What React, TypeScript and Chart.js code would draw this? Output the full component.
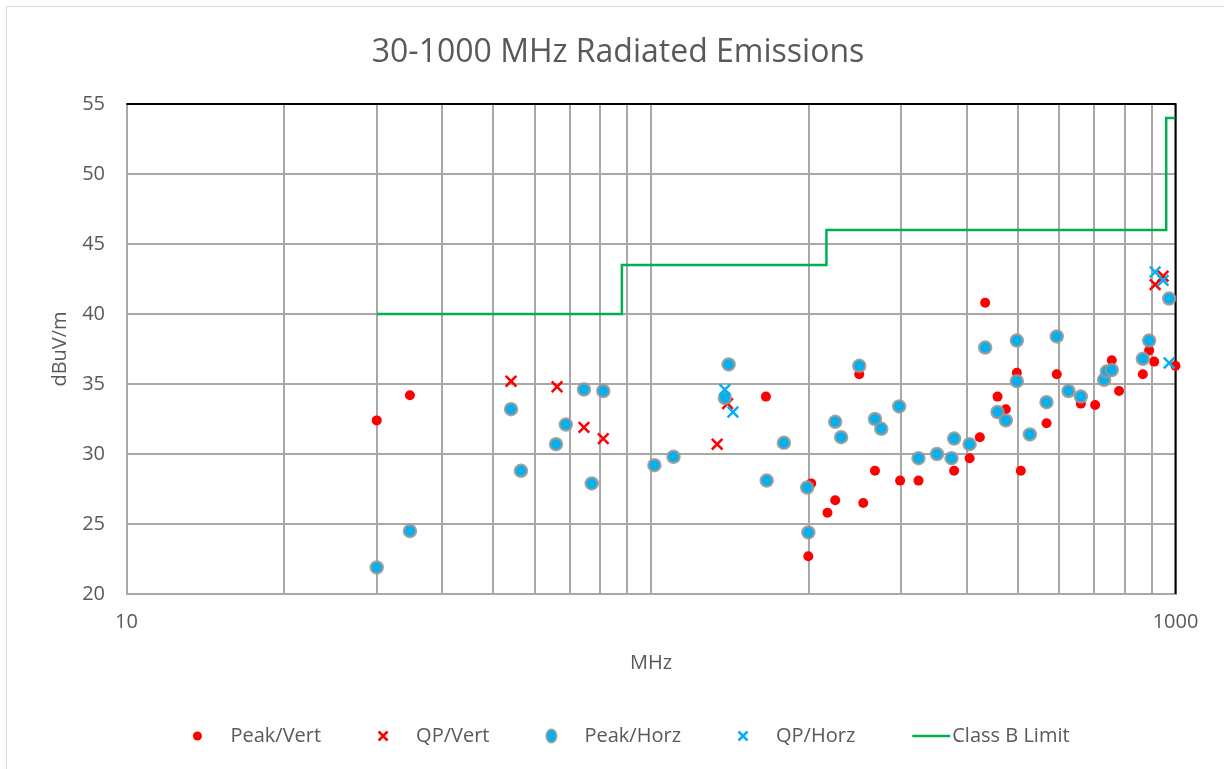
import React, { useEffect, useRef } from 'react';
import { Chart, registerables } from 'chart.js';

Chart.register(...registerables);

// ---------- data ----------
const peakVertFreq = [30, 34.7, 165.6, 199.5, 202, 217, 224.5, 249.5, 253.9, 267.3, 298.5, 323.6, 378.4, 405, 423.6, 433.6, 457.8, 474.8, 498.3, 507.1, 567.7, 593.8, 660, 702.7, 755.9, 780.5, 866.4, 890.7, 910.6, 1000];
const peakVertLevel = [32.4, 34.2, 34.1, 22.7, 27.9, 25.8, 26.7, 35.7, 26.5, 28.8, 28.1, 28.1, 28.8, 29.7, 31.2, 40.8, 34.1, 33.2, 35.8, 28.8, 32.2, 35.7, 33.6, 33.5, 36.7, 34.5, 35.7, 37.4, 36.6, 36.3];

const qpVertFreq = [54.1, 66.2, 74.5, 81.1, 133.7, 140, 914.6, 947];
const qpVertLevel = [35.2, 34.8, 31.9, 31.1, 30.7, 33.6, 42.1, 42.7];

const peakHorzFreq = [30, 34.7, 54.1, 56.5, 65.9, 68.8, 74.5, 77.1, 81.1, 101.5, 110.4, 138.3, 140.6, 166.2, 179.2, 198.5, 199.5, 224.5, 230.4, 249.5, 267.3, 274.8, 297.3, 323.6, 351, 374.1, 378.4, 405, 433.6, 457.8, 474.8, 498.3, 498.3, 527.6, 567.7, 593.8, 625.2, 660, 730.9, 740, 755.9, 866.4, 890.7, 972.5];
const peakHorzLevel = [21.9, 24.5, 33.2, 28.8, 30.7, 32.1, 34.6, 27.9, 34.5, 29.2, 29.8, 34.0, 36.4, 28.1, 30.8, 27.6, 24.4, 32.3, 31.2, 36.3, 32.5, 31.8, 33.4, 29.7, 30.0, 29.7, 31.1, 30.7, 37.6, 33.0, 32.4, 38.1, 35.2, 31.4, 33.7, 38.4, 34.5, 34.1, 35.3, 35.9, 36.0, 36.8, 38.1, 41.1];

const qpHorzFreq = [138.3, 143.3, 914.6, 947, 972.5];
const qpHorzLevel = [34.6, 33.0, 43.0, 42.4, 36.5];

const limitFreq = [30, 88, 88, 216, 216, 960, 960, 1000];
const limitLevel = [40, 40, 43.5, 43.5, 46, 46, 54, 54];

const xGridValues = [10, 20, 30, 40, 50, 60, 70, 80, 90, 100, 200, 300, 400, 500, 600, 700, 800, 900, 1000];
const xLabelValues = [10, 1000];
const yTickValues = [20, 25, 30, 35, 40, 45, 50, 55];

const TITLE = '30-1000 MHz Radiated Emissions';
const X_TITLE = 'MHz';
const Y_TITLE = 'dBuV/m';

// ---------- styles ----------
const FONT = '"Open Sans", sans-serif';
const TEXT = '#595959';
const GRID = '#a8a8a8';
const RED = '#ff0000';
const BLUE = '#00b0f0';
const GREEN = '#00b050';

const pts = (f: number[], v: number[]) => f.map((x, i) => ({ x, y: v[i] }));

const framePlugin = {
  id: 'frameLines',
  beforeDatasetsDraw(chart: any) {
    const { ctx, chartArea: a } = chart;
    ctx.save();
    ctx.strokeStyle = '#000000';
    ctx.lineWidth = 2;
    ctx.beginPath();
    ctx.moveTo(a.left, a.top);
    ctx.lineTo(a.right, a.top);
    ctx.lineTo(a.right, a.bottom);
    ctx.stroke();
    ctx.restore();
  },
};

const legendPlugin = {
  id: 'customLegend',
  afterDraw(chart: any) {
    const ctx = chart.ctx;
    ctx.save();
    ctx.font = `20px ${FONT}`;
    ctx.textBaseline = 'middle';
    const y = 736;
    const items = chart.data.datasets.map((ds: any) => {
      const isLine = ds.showLine;
      const markW = isLine ? 38 : 10;
      const toText = isLine ? 40 : 38;
      const tw = ctx.measureText(ds.label).width;
      return { ds, isLine, markW, toText, tw };
    });
    const gap = 57;
    let total = 0;
    items.forEach((it: any, i: number) => {
      total += it.toText + it.tw + (i < items.length - 1 ? gap : 0);
    });
    let x = 625 - total / 2;
    items.forEach((it: any) => {
      const ds = it.ds;
      if (it.isLine) {
        ctx.strokeStyle = ds.borderColor;
        ctx.lineWidth = 2.5;
        ctx.beginPath();
        ctx.moveTo(x, y);
        ctx.lineTo(x + it.markW, y);
        ctx.stroke();
      } else {
        const cx = x + 5;
        if (ds.pointStyle === 'crossRot') {
          ctx.strokeStyle = ds.borderColor;
          ctx.lineWidth = 2.5;
          const d = 4.5;
          ctx.beginPath();
          ctx.moveTo(cx - d, y - d);
          ctx.lineTo(cx + d, y + d);
          ctx.moveTo(cx + d, y - d);
          ctx.lineTo(cx - d, y + d);
          ctx.stroke();
        } else {
          ctx.beginPath();
          ctx.ellipse(cx, y, ds.pointBorderWidth > 0 ? 5 : 4.5, ds.pointBorderWidth > 0 ? 6.5 : 4.5, 0, 0, Math.PI * 2);
          ctx.fillStyle = ds.backgroundColor;
          ctx.fill();
          if (ds.pointBorderWidth > 0) {
            ctx.strokeStyle = ds.pointBorderColor;
            ctx.lineWidth = 2;
            ctx.stroke();
          }
        }
      }
      ctx.fillStyle = TEXT;
      ctx.textAlign = 'left';
      ctx.fillText(ds.label, x + it.toText, y);
      x += it.toText + it.tw + gap;
    });
    ctx.restore();
  },
};

export default function App() {
  const ref = useRef<HTMLCanvasElement | null>(null);

  useEffect(() => {
    if (!ref.current) return;
    const font = { family: FONT, size: 20 };
    const chart = new Chart(ref.current, {
      type: 'scatter',
      data: {
        datasets: [
          {
            label: 'Peak/Vert',
            data: pts(peakVertFreq, peakVertLevel),
            pointStyle: 'circle',
            pointRadius: 5,
            pointBorderWidth: 0,
            backgroundColor: RED,
            borderColor: RED,
            pointBackgroundColor: RED,
            showLine: false,
            clip: false,
            order: 5,
          },
          {
            label: 'QP/Vert',
            data: pts(qpVertFreq, qpVertLevel),
            pointStyle: 'crossRot',
            pointRadius: 7.5,
            pointBorderWidth: 2.5,
            borderColor: RED,
            backgroundColor: RED,
            pointBorderColor: RED,
            showLine: false,
            clip: false,
            order: 4,
          },
          {
            label: 'Peak/Horz',
            data: pts(peakHorzFreq, peakHorzLevel),
            pointStyle: 'circle',
            pointRadius: 6,
            pointBorderWidth: 2.5,
            backgroundColor: BLUE,
            pointBackgroundColor: BLUE,
            pointBorderColor: 'rgba(150,150,150,0.85)',
            borderColor: BLUE,
            showLine: false,
            clip: false,
            order: 3,
          },
          {
            label: 'QP/Horz',
            data: pts(qpHorzFreq, qpHorzLevel),
            pointStyle: 'crossRot',
            pointRadius: 7.5,
            pointBorderWidth: 2.5,
            borderColor: BLUE,
            backgroundColor: BLUE,
            pointBorderColor: BLUE,
            showLine: false,
            clip: false,
            order: 2,
          },
          {
            label: 'Class B Limit',
            data: pts(limitFreq, limitLevel),
            showLine: true,
            pointRadius: 0,
            borderColor: GREEN,
            backgroundColor: GREEN,
            borderWidth: 2.5,
            fill: false,
            tension: 0,
            order: 1,
          },
        ],
      },
      options: {
        responsive: false,
        animation: false,
        events: [],
        layout: { padding: { left: 0, right: 0, top: 0, bottom: 85 } },
        plugins: {
          legend: { display: false },
          tooltip: { enabled: false },
          title: {
            display: true,
            text: TITLE,
            color: TEXT,
            font: { family: FONT, size: 32, weight: 'normal' },
            padding: { top: 33.8, bottom: 31.8 },
          },
        },
        scales: {
          x: {
            type: 'logarithmic',
            position: 'bottom',
            min: 10,
            max: 1000,
            afterBuildTicks: (s: any) => {
              s.ticks = xGridValues.map((v) => ({ value: v }));
            },
            afterFit: (s: any) => {
              s.height = 90;
            },
            ticks: {
              autoSkip: false,
              maxRotation: 0,
              minRotation: 0,
              padding: 16,
              color: TEXT,
              font,
              callback: (v: any) => (xLabelValues.includes(Number(v)) ? String(v) : ''),
            },
            grid: { color: GRID, lineWidth: 2, drawTicks: false },
            border: { color: GRID, width: 2 },
            title: { display: true, text: X_TITLE, color: TEXT, font, padding: { top: 0, bottom: 9 } },
          },
          y: {
            type: 'linear',
            position: 'left',
            min: 20,
            max: 55,
            afterBuildTicks: (s: any) => {
              s.ticks = yTickValues.map((v) => ({ value: v }));
            },
            afterFit: (s: any) => {
              s.width = 120.5;
            },
            ticks: { padding: 21.5, color: TEXT, font },
            grid: { color: GRID, lineWidth: 2, drawTicks: false },
            border: { color: GRID, width: 2 },
            title: { display: true, text: Y_TITLE, color: TEXT, font, padding: { top: 42, bottom: 0 } },
          },
          y2: {
            type: 'linear',
            position: 'right',
            display: true,
            afterFit: (s: any) => {
              s.width = 54.5;
            },
            ticks: { display: false },
            grid: { display: false, drawTicks: false },
            border: { display: false },
          },
        },
      } as any,
      plugins: [framePlugin, legendPlugin],
    });
    return () => chart.destroy();
  }, []);

  return (
    <div style={{ position: 'fixed', left: 0, top: 0, width: 1224, height: 769, background: '#ffffff', overflow: 'hidden' }}>
      <div
        style={{
          position: 'absolute',
          left: 6,
          top: 6,
          width: 1300,
          height: 800,
          borderLeft: '1px solid #d9d9d9',
          borderTop: '1px solid #d9d9d9',
        }}
      />
      <canvas ref={ref} width={1224} height={769} style={{ position: 'absolute', left: 6, top: 0, width: 1224, height: 769 }} />
    </div>
  );
}
